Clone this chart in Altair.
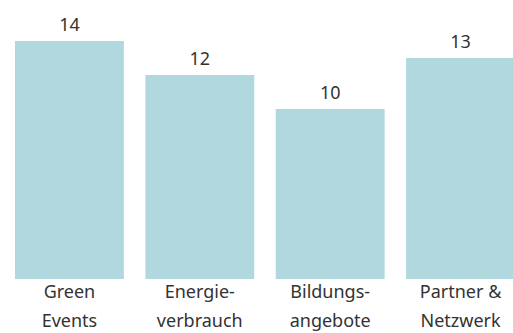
import altair as alt
import pandas as pd

categories = ["Green\nEvents", "Energie-\nverbrauch", "Bildungs-\nangebote", "Partner &\nNetzwerk"]
values = [14, 12, 10, 13]

df = pd.DataFrame({"cat": categories, "val": values})

FONT = "Noto Sans"

x = alt.X("cat:N", sort=categories,
          scale=alt.Scale(range=[0, 530], paddingInner=0.165, paddingOuter=0.115),
          axis=alt.Axis(title=None, labelAngle=0, labelExpr="split(datum.value, '\\n')",
                        labelFont=FONT, labelFontSize=18, labelColor="#333333",
                        labelLineHeight=29, labelBaseline="top", labelPadding=4,
                        ticks=False, domain=False, labelAlign="center"))
y = alt.Y("val:Q", scale=alt.Scale(domain=[0, 16.41], nice=False), axis=None)

bars = alt.Chart(df).mark_bar(color="#b1d8de").encode(x=x, y=y)
labels = alt.Chart(df).mark_text(font=FONT, fontSize=18, color="#333333",
                                 baseline="alphabetic", dy=-10).encode(
    x=x, y=y, text="val:Q")

chart = (bars + labels).properties(
    width=513, height=279, background="white",
    padding={"left": 0, "top": 0, "right": 0, "bottom": 54},
    autosize=alt.AutoSizeParams(type="none")
).configure_view(strokeWidth=0, stroke="transparent")

chart.save("out.html", embed_options={"renderer": "svg", "actions": False})
